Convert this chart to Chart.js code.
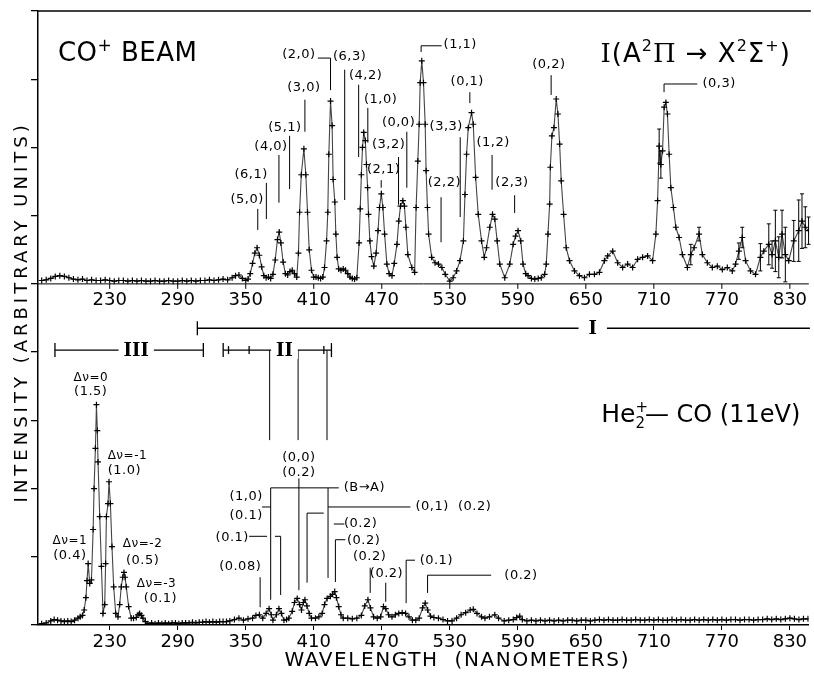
<!DOCTYPE html>
<html>
<head>
<meta charset="utf-8">
<script src="https://cdn.jsdelivr.net/npm/chart.js@4.4.1/dist/chart.umd.min.js"></script>
<style>
  html, body { margin: 0; padding: 0; background: #fff; }
  #wrap { width: 814px; height: 673px; }
</style>
</head>
<body>
<div id="wrap"><canvas id="c" width="814" height="673"></canvas></div>
<script>
// upper trace: CO+ beam, A2Pi -> X2Sigma+ (intensity in tick units)
const coWl = [
  170, 174, 178, 182, 186, 190, 194, 198, 202, 206, 210, 214, 218, 222, 226, 230, 234, 238, 242, 246,
  250, 254, 258, 262, 266, 270, 274, 278, 282, 286, 290, 294, 298, 302, 306, 310, 314, 318, 322, 326,
  330, 334, 338, 341, 344, 347, 350, 352,
  354, 356, 358, 360, 362, 364, 366, 368, 370, 372,
  374, 376, 378, 379.5, 381, 383, 385, 387, 389, 391, 393, 395,
  396.5, 397.5, 399, 401.3, 403, 404.5, 406, 408, 410, 412, 414, 416, 418,
  419.5, 421.3, 422.4, 423.3, 424.8, 426.2, 427.1, 428.6, 429.5, 430.6, 432, 434, 436, 438, 440, 442, 444, 446, 448,
  450, 451, 452, 453, 454.1, 455.5, 456.5, 457.5, 458.3, 459.5, 461, 463,
  465, 466.7, 468, 469.6, 471, 472.5, 474.5, 476.5, 479,
  481, 483.4, 485, 486.5, 488.6, 490, 491.3, 493, 496.5, 499,
  500.3, 501.8, 503, 503.9, 505.3, 506.8, 508.3, 509.1, 510.3, 511.3, 514, 517, 520, 523, 526, 530, 533, 536, 539,
  542, 543.4, 544.8, 546.3, 549.2, 550.7, 552.8, 555.1, 558, 560.4, 562.4, 565.3, 567.7, 569.7, 571.8, 574.1,
  578.5, 582.9, 585.9, 588, 590.2, 592.6, 594.6, 597, 599, 602, 605, 608, 610.7, 613.7,
  615.1, 616.6, 618.1, 618.7, 620.1, 621.9, 623.9, 625.4, 626.9, 628.3, 630.4, 632.7, 635.6, 640, 644.4, 648.8,
  653.2, 657.6, 662, 666.4, 669.3, 673.7, 678.1, 682.5, 686.9, 691.3, 695.7, 700.1, 704.5, 708.9,
  711.8, 713.3, 714.7, 716.2, 717.7, 719.1, 720.6, 722, 723.5, 725, 727.3, 729.4, 732.3, 735.2, 739.6,
  742.6, 745.5, 749.9, 752.8, 757.2, 761.6, 766, 770.4, 774.8, 779.2, 782.1, 785, 788, 790.9, 795.3, 799.7,
  804, 807, 811.4, 814.3, 817.2, 820.2, 823.1, 826, 829, 833.4, 837.8, 840.7, 843.6, 846.5
];
const coI = [
  .05, .06, .08, .11, .12, .11, .09, .07, .06, .07, .05, .06, .05, .05, .06, .05, .04, .05, .05, .04,
  .05, .04, .05, .04, .04, .05, .04, .04, .05, .04, .04, .05, .04, .05, .04, .05, .05, .06, .05, .06,
  .07, .06, .09, .12, .13, .08, .05, .07,
  .15, .3, .45, .53, .42, .25, .12, .09, .1, .08,
  .14, .35, .65, .76, .6, .32, .15, .13, .18, .2, .15, .1,
  .45, 1.05, 1.6, 1.98, 1.6, 1.05, .5, .2, .1, .1, .09, .08, .1,
  .24, .63, 1.05, 1.9, 2.68, 2.32, 1.53, 1.2, .73, .39, .22, .2, .22, .2, .15, .1, .08, .07, .09,
  .6, 1.1, 1.6, 2.0, 2.22, 2.1, 1.75, 1.41, 1.02, .63, .4, .26,
  .45, .78, 1.12, 1.32, 1.12, .73, .29, .15, .12,
  .3, .58, .92, 1.14, 1.22, 1.14, .83, .43, .24, .17,
  1.12, 1.8, 2.34, 2.95, 3.27, 2.95, 2.34, 1.66, 1.12, .73, .39, .31, .29, .24, .14, .04, .09, .19, .34,
  .63, 1.31, 1.9, 2.29, 2.51, 2.34, 1.56, 1.02, .63, .39, .53, .83, 1.02, .95, .63, .29,
  .09, .29, .58, .7, .78, .63, .29, .15, .12, .08, .07, .08, .09, .14,
  .29, .73, 1.17, 1.71, 2.17, 2.29, 2.71, 2.49, 2.05, 1.51, 1.02, .53, .34, .19, .12, .09,
  .14, .14, .17, .34, .41, .48, .31, .24, .29, .24, .36, .39, .41, .34,
  .73, 1.22, 2.02, 1.75, 1.95, 2.59, 2.66, 2.49, 1.9, 1.41, 1.12, .83, .68, .43, .24,
  .43, .53, .73, .43, .31, .24, .26, .21, .24, .19, .29, .48, .68, .34, .19, .14,
  .39, .48, .58, .43, .63, .39, .73, .43, .34, .63, .78, .92, .83, .78
];
// error bars on the noisy red end of the upper trace
const coErrWl = [714.7, 716.2, 742.6, 749.9, 785, 788, 804, 811.4, 814.3, 817.2, 820.2, 823.1, 826, 833.4, 837.8, 840.7, 843.6, 846.5];
const coErrSize = [.25, .2, .15, .1, .12, .15, .2, .3, .2, .45, .3, .35, .4, .3, .45, .4, .3, .2];

// lower trace: He2+ - CO at 11 eV
const heWl = [
  170, 174, 178, 181, 184, 187, 190, 193, 196, 199, 202, 204, 206, 207.5, 209, 210, 211, 212.4, 213.9,
  215.4, 216.2, 217.4, 218.3, 219.1, 219.7, 221.2, 222.7, 224.1, 225.6, 226.4, 227.1, 228.5, 229.4, 230.6,
  232, 233.5, 235.3, 237.3, 238.8, 240.2, 241.5, 242.6, 243.6, 244.6, 246.7, 249, 251, 253.4, 255, 256.4,
  258, 259.3, 261.5, 263.7, 267, 270, 273, 276, 279, 282, 285, 288, 291, 294, 297, 300, 303, 306, 309,
  312, 315, 318, 321, 324, 327, 330, 333, 336, 340, 344, 348, 352, 356, 359, 362, 365, 368, 370.6, 372.5,
  374, 377, 379.3, 381.5, 383.7, 386, 388, 391, 393, 395.4, 397.5, 399.2, 400.8, 402.2, 404, 406, 408,
  411.5, 414.5, 417.4, 419.5, 421.8, 424.7, 426.5, 428.5, 430, 432, 434, 436, 440, 444, 448, 452, 455,
  457.8, 460, 462.8, 466, 469, 471.5, 473.5, 476, 479, 482, 485, 488, 491, 494, 497, 500, 503, 506,
  508.3, 510.5, 513, 516, 520, 524, 528, 532, 536, 540, 544, 548, 550.7, 554, 558, 561, 565, 569.7, 573,
  578, 582, 586, 589, 591.7, 594, 598, 602, 606, 610, 614, 618, 622, 626, 630, 634, 638, 642, 646, 650,
  654, 658, 662, 666, 670, 674, 678, 682, 686, 690, 694, 698, 702, 706, 710, 714, 718, 722, 726, 730,
  734, 738, 742, 746, 750, 754, 758, 762, 766, 770, 774, 778, 782, 786, 790, 794, 798, 802, 806, 810,
  814, 818, 822, 826, 830, 834, 838, 842, 846
];
const heI = [
  .02, .03, .06, .08, .07, .06, .05, .06, .05, .07, .1, .12, .14, .22, .4, .65, .9, .61, .66,
  1.4, 2.0, 2.59, 3.23, 2.85, 2.39, 1.59, .86, .17, .3, .9, 1.59, 1.78, 2.1, 1.78,
  1.15, .56, .17, .12, .3, .56, .7, .77, .7, .56, .27, .1, .1, .11, .15, .17,
  .14, .1, .05, .02, .03, .02, .03, .02, .03, .02, .03, .03, .02, .03, .03, .03, .04, .03, .04,
  .04, .05, .04, .05, .04, .05, .05, .05, .06, .08, .1, .07, .09, .1, .14, .15, .1, .17, .24, .15,
  .07, .15, .24, .17, .07, .08, .1, .2, .33, .39, .3, .22, .33, .37, .28, .17, .1,
  .1, .12, .17, .3, .39, .42, .45, .49, .4, .27, .15, .1, .1, .09, .1, .14, .28,
  .37, .25, .12, .1, .12, .27, .24, .15, .12, .15, .17, .18, .17, .12, .07, .07, .1, .25,
  .32, .22, .13, .11, .1, .08, .06, .06, .1, .15, .18, .22, .23, .17, .12, .1, .12, .15, .1,
  .06, .07, .08, .11, .13, .08, .06, .07, .06, .07, .06, .07, .06, .07, .06, .07, .07, .06, .07, .07,
  .06, .07, .08, .07, .08, .07, .07, .08, .07, .07, .08, .07, .07, .08, .07, .08, .07, .07, .08, .07,
  .08, .07, .07, .08, .07, .08, .07, .08, .07, .08, .07, .08, .08, .07, .08, .08, .07, .08, .08, .09,
  .08, .09, .08, .09, .1, .09, .08, .09, .09
];

const xTicks = [230, 290, 350, 410, 470, 530, 590, 650, 710, 770, 830];
const X_MIN = 166.75, X_MAX = 846.7;
const CO_OFFSET = 5;   // upper trace is lifted 5 tick units on the shared axis

const LETTER = '"DejaVu Sans", sans-serif';
const ROMAN = '"DejaVu Serif", serif';

// band assignments, upper panel: [text, wavelength, height]
const coLabels = [
  ['(5,0)', 351.2, 6.23], ['(6,1)', 354.7, 6.60], ['(4,0)', 372.3, 7.01], ['(5,1)', 384.6, 7.29],
  ['(3,0)', 401.3, 7.87], ['(2,0)', 396.9, 8.36], ['(6,3)', 441.7, 8.33], ['(4,2)', 455.8, 8.06],
  ['(1,0)', 469.0, 7.70], ['(0,0)', 484.8, 7.37], ['(3,2)', 476.0, 7.04], ['(2,1)', 471.6, 6.68],
  ['(1,1)', 539.2, 8.50], ['(3,3)', 526.9, 7.30], ['(0,1)', 545.4, 7.97], ['(2,2)', 525.2, 6.48],
  ['(1,2)', 568.2, 7.07], ['(2,3)', 584.9, 6.48], ['(0,2)', 617.4, 8.21], ['(0,3)', 767.6, 7.93]
];
const coLeaders = [
  [[360.6, 6.10], [360.6, 5.79]], [[368.2, 6.48], [368.2, 5.95]], [[379.3, 6.89], [379.3, 6.19]],
  [[388.7, 7.17], [388.7, 6.39]], [[402.2, 7.70], [402.2, 7.23]],
  [[413.6, 8.31], [424.8, 8.31], [424.8, 7.84]],
  [[437.3, 8.14], [437.3, 6.23]], [[449.6, 7.92], [449.6, 6.86]], [[457.7, 7.58], [457.7, 7.07]],
  [[492.1, 7.23], [492.1, 6.41]], [[484.8, 6.86], [484.8, 6.16]], [[469.5, 6.52], [469.5, 6.41]],
  [[504.7, 8.40], [504.7, 8.49], [522.8, 8.49]],
  [[539.2, 7.15], [539.2, 5.98]], [[547.7, 7.81], [547.7, 7.65]], [[522.3, 6.27], [522.3, 5.61]],
  [[567.3, 6.89], [567.3, 6.38]], [[587.2, 6.30], [587.2, 6.04]], [[619.4, 8.06], [619.4, 7.77]],
  [[719.0, 7.81], [719.0, 7.93], [748.3, 7.93]]
];

// lower panel labels: [text, wavelength, height, align]
const heLabels = [
  ['Δν=0', 213.3, 3.62], ['(1.5)', 213.3, 3.42],
  ['Δν=-1', 228.2, 2.48, 'left'], ['(1.0)', 228.2, 2.27, 'left'],
  ['Δν=1', 194.9, 1.23], ['(0.4)', 194.9, 1.01],
  ['Δν=-2', 259.0, 1.19], ['(0.5)', 259.0, 0.94],
  ['Δν=-3', 271.3, 0.60], ['(0.1)', 274.8, 0.38],
  ['(1,0)', 350.4, 1.88], ['(0.1)', 350.4, 1.61], ['(0,0)', 396.9, 2.46], ['(0.2)', 396.9, 2.24],
  ['(0.1)', 338.1, 1.28], ['(0.08)', 345.1, 0.85], ['(0.2)', 451.4, 1.48], ['(0.2)', 454.0, 1.23],
  ['(0.2)', 459.3, 1.00], ['(0.2)', 474.2, 0.75], ['(0.1)', 518.1, 0.94], ['(0.2)', 592.8, 0.73],
  ['(B→A)', 436.4, 2.01, 'left'], ['(0,1)  (0.2)', 499.7, 1.73, 'left']
];
const heLeaders = [
  [[364.4, 1.73], [372.0, 1.73]],
  [[372.0, 0.37], [372.0, 2.01], [432.1, 2.01]],
  [[396.9, 2.15], [396.9, 0.51]],
  [[422.6, 2.01], [422.6, 0.69]], [[422.6, 1.73], [495.3, 1.73]],
  [[353.0, 1.30], [368.8, 1.30]], [[375.8, 1.30], [380.8, 1.30], [380.8, 0.44]],
  [[362.7, 0.70], [362.7, 0.26]],
  [[404.1, 0.62], [404.1, 1.64], [418.8, 1.64]],
  [[427.7, 1.48], [437.0, 1.48]],
  [[429.1, 0.63], [429.1, 1.25], [437.9, 1.25]],
  [[459.8, 0.84], [459.8, 0.47]],
  [[473.5, 0.62], [473.5, 0.34]],
  [[491.5, 0.32], [491.5, 0.95], [499.3, 0.95]],
  [[510.4, 0.47], [510.4, 0.73], [566.5, 0.73]],
  // drops from the II bracket
  [[371.1, 4.03], [371.1, 2.71]], [[396.2, 4.03], [396.2, 2.71]], [[421.7, 4.03], [421.7, 2.71]]
];

// system brackets I, II, III
const brackets = [
  { from: 307.3, to: X_MAX + 1, y: 4.35, label: 'I', at: 656.1, pad: 10, ends: [307.3], minor: [] },
  { from: 181.7, to: 312.6, y: 4.03, label: 'III', at: 253.4, pad: 5, ends: [181.7, 312.6], minor: [] },
  { from: 330.1, to: 425.6, y: 4.03, label: 'II', at: 384.2, pad: 5, ends: [330.1, 425.6], minor: [334.8, 353.0, 418.9] }
];

function poly(ctx, pts, w) {
  ctx.beginPath();
  ctx.lineWidth = w || 1;
  pts.forEach((p, i) => i ? ctx.lineTo(p[0], p[1]) : ctx.moveTo(p[0], p[1]));
  ctx.stroke();
}

// draws a row of text pieces (superscripts, subscripts) on one baseline
function runs(ctx, parts, x, y, align) {
  let w = 0;
  parts.forEach(r => {
    ctx.font = r.size + 'px ' + (r.family || LETTER);
    r.w = ctx.measureText(r.t).width;
    if (!r.keep) w += r.w;
  });
  let cx = align === 'center' ? x - w / 2 : x;
  ctx.textAlign = 'left';
  ctx.textBaseline = 'alphabetic';
  parts.forEach(r => {
    ctx.font = r.size + 'px ' + (r.family || LETTER);
    ctx.fillText(r.t, cx, y + (r.dy || 0));
    if (!r.keep) cx += r.w;
  });
}

const decor = {
  id: 'decor',
  afterDatasetsDraw(chart) {
    const { ctx, chartArea: a, scales: { x, y } } = chart;
    const px = v => x.getPixelForValue(v);
    const py = v => y.getPixelForValue(v);
    ctx.save();
    ctx.strokeStyle = '#000';
    ctx.fillStyle = '#000';

    // frame top
    poly(ctx, [[a.left, a.top], [a.right + 2, a.top]], 1.5);

    // axis of the upper panel
    const yb = py(CO_OFFSET);
    poly(ctx, [[a.left, yb], [a.right, yb]], 1);
    ctx.font = '18px ' + LETTER;
    ctx.textAlign = 'center';
    ctx.textBaseline = 'middle';
    xTicks.forEach(v => {
      poly(ctx, [[px(v), yb], [px(v), yb + 5]], 1);
      ctx.fillText(String(v), px(v), yb + 16);
    });

    // error bars
    coErrWl.forEach((w, i) => {
      const k = coWl.indexOf(w);
      if (k < 0) return;
      const v = coI[k] + CO_OFFSET, e = coErrSize[i];
      const xx = px(w);
      poly(ctx, [[xx, py(v - e)], [xx, py(v + e)]], 1);
      poly(ctx, [[xx - 2, py(v - e)], [xx + 2, py(v - e)]], 1);
      poly(ctx, [[xx - 2, py(v + e)], [xx + 2, py(v + e)]], 1);
    });

    // leaders
    coLeaders.concat(heLeaders).forEach(l => poly(ctx, l.map(p => [px(p[0]), py(p[1])]), 1));

    // brackets
    brackets.forEach(b => {
      const yy = py(b.y);
      poly(ctx, [[px(b.from), yy], [px(b.to), yy]], 1.3);
      b.ends.forEach(e => poly(ctx, [[px(e), yy - 7], [px(e), yy + 7]], 1.3));
      b.minor.forEach(e => poly(ctx, [[px(e), yy - 4], [px(e), yy + 4]], 1.3));
      ctx.font = 'bold 18px ' + ROMAN;
      const tw = ctx.measureText(b.label).width;
      ctx.fillStyle = '#fff';
      ctx.fillRect(px(b.at) - tw / 2 - b.pad, yy - 9, tw + 2 * b.pad, 18);
      ctx.fillStyle = '#000';
      ctx.textAlign = 'center';
      ctx.textBaseline = 'middle';
      ctx.fillText(b.label, px(b.at), yy + 1);
    });

    // small labels
    ctx.letterSpacing = '0.5px';
    coLabels.concat(heLabels).forEach(l => {
      ctx.font = (l[0].startsWith('Δ') ? '12px ' : '13px ') + LETTER;
      ctx.textAlign = l[3] || 'center';
      ctx.textBaseline = 'middle';
      ctx.fillText(l[0], px(l[1]), py(l[2]));
    });

    // panel titles
    ctx.letterSpacing = '0.5px';
    runs(ctx, [{ t: 'CO', size: 26 }, { t: '+', size: 17, dy: -10 }, { t: ' BEAM', size: 26 }], px(184.3), py(8.27), 'left');
    ctx.letterSpacing = '1px';
    runs(ctx, [
      { t: 'I', size: 26, family: ROMAN }, { t: '(A', size: 26 }, { t: '2', size: 16, dy: -11 },
      { t: 'Π', size: 26, family: ROMAN }, { t: ' → ', size: 26 }, { t: 'X', size: 26 },
      { t: '2', size: 16, dy: -11 }, { t: 'Σ', size: 26 }, { t: '+', size: 16, dy: -11 }, { t: ')', size: 26 }
    ], px(746.9), py(8.25), 'center');
    ctx.letterSpacing = '0px';
    runs(ctx, [
      { t: 'He', size: 25 }, { t: '+', size: 15, dy: -10, keep: true }, { t: '2', size: 15, dy: 6 },
      { t: '— CO (11eV)', size: 24 }
    ], px(751.4), py(2.98), 'center');

    // axis titles
    ctx.font = '20px ' + LETTER;
    ctx.letterSpacing = '1.6px';
    ctx.textAlign = 'center';
    ctx.textBaseline = 'middle';
    ctx.fillText('WAVELENGTH  (NANOMETERS)', px(536.6), a.bottom + 36);
    ctx.save();
    ctx.translate(22, py(4.59));
    ctx.rotate(-Math.PI / 2);
    ctx.font = '18px ' + LETTER;
    ctx.letterSpacing = '4px';
    ctx.fillText('INTENSITY (ARBITRARY UNITS)', 0, 0);
    ctx.restore();
    ctx.letterSpacing = '0px';
    ctx.restore();
  }
};

const series = (wl, vals, off) => wl.map((w, i) => ({ x: w, y: vals[i] + off }));
const traceStyle = {
  borderColor: '#444',
  borderWidth: 1.1,
  pointStyle: 'cross',
  pointRadius: 3,
  pointBorderWidth: 1.2,
  pointBorderColor: '#000',
  tension: 0,
  fill: false
};

new Chart(document.getElementById('c'), {
  type: 'line',
  data: {
    datasets: [
      Object.assign({ label: 'CO+ beam', data: series(coWl, coI, CO_OFFSET) }, traceStyle),
      Object.assign({ label: 'He2+ - CO (11 eV)', data: series(heWl, heI, 0) }, traceStyle)
    ]
  },
  options: {
    responsive: false,
    devicePixelRatio: 1,
    animation: false,
    events: [],
    layout: { padding: { top: 11, right: 2, left: 0, bottom: 0 } },
    plugins: { legend: { display: false }, tooltip: { enabled: false } },
    scales: {
      x: {
        type: 'linear', min: X_MIN, max: X_MAX,
        afterBuildTicks: s => { s.ticks = xTicks.map(v => ({ value: v })); },
        afterFit: s => { s.height = 48; },
        ticks: { color: '#000', font: { family: 'DejaVu Sans', size: 18 }, padding: 2, maxRotation: 0, autoSkip: false },
        grid: { drawOnChartArea: false, tickLength: 5, color: '#000', lineWidth: 1 },
        border: { color: '#000', width: 1.5 }
      },
      y: {
        min: 0, max: 9,
        ticks: { display: false, stepSize: 1 },
        afterFit: s => { s.width = 38; },
        grid: { drawOnChartArea: false, tickLength: 7, color: '#000', lineWidth: 1.3 },
        border: { color: '#000', width: 1.5 }
      }
    }
  },
  plugins: [decor]
});
</script>
</body>
</html>
